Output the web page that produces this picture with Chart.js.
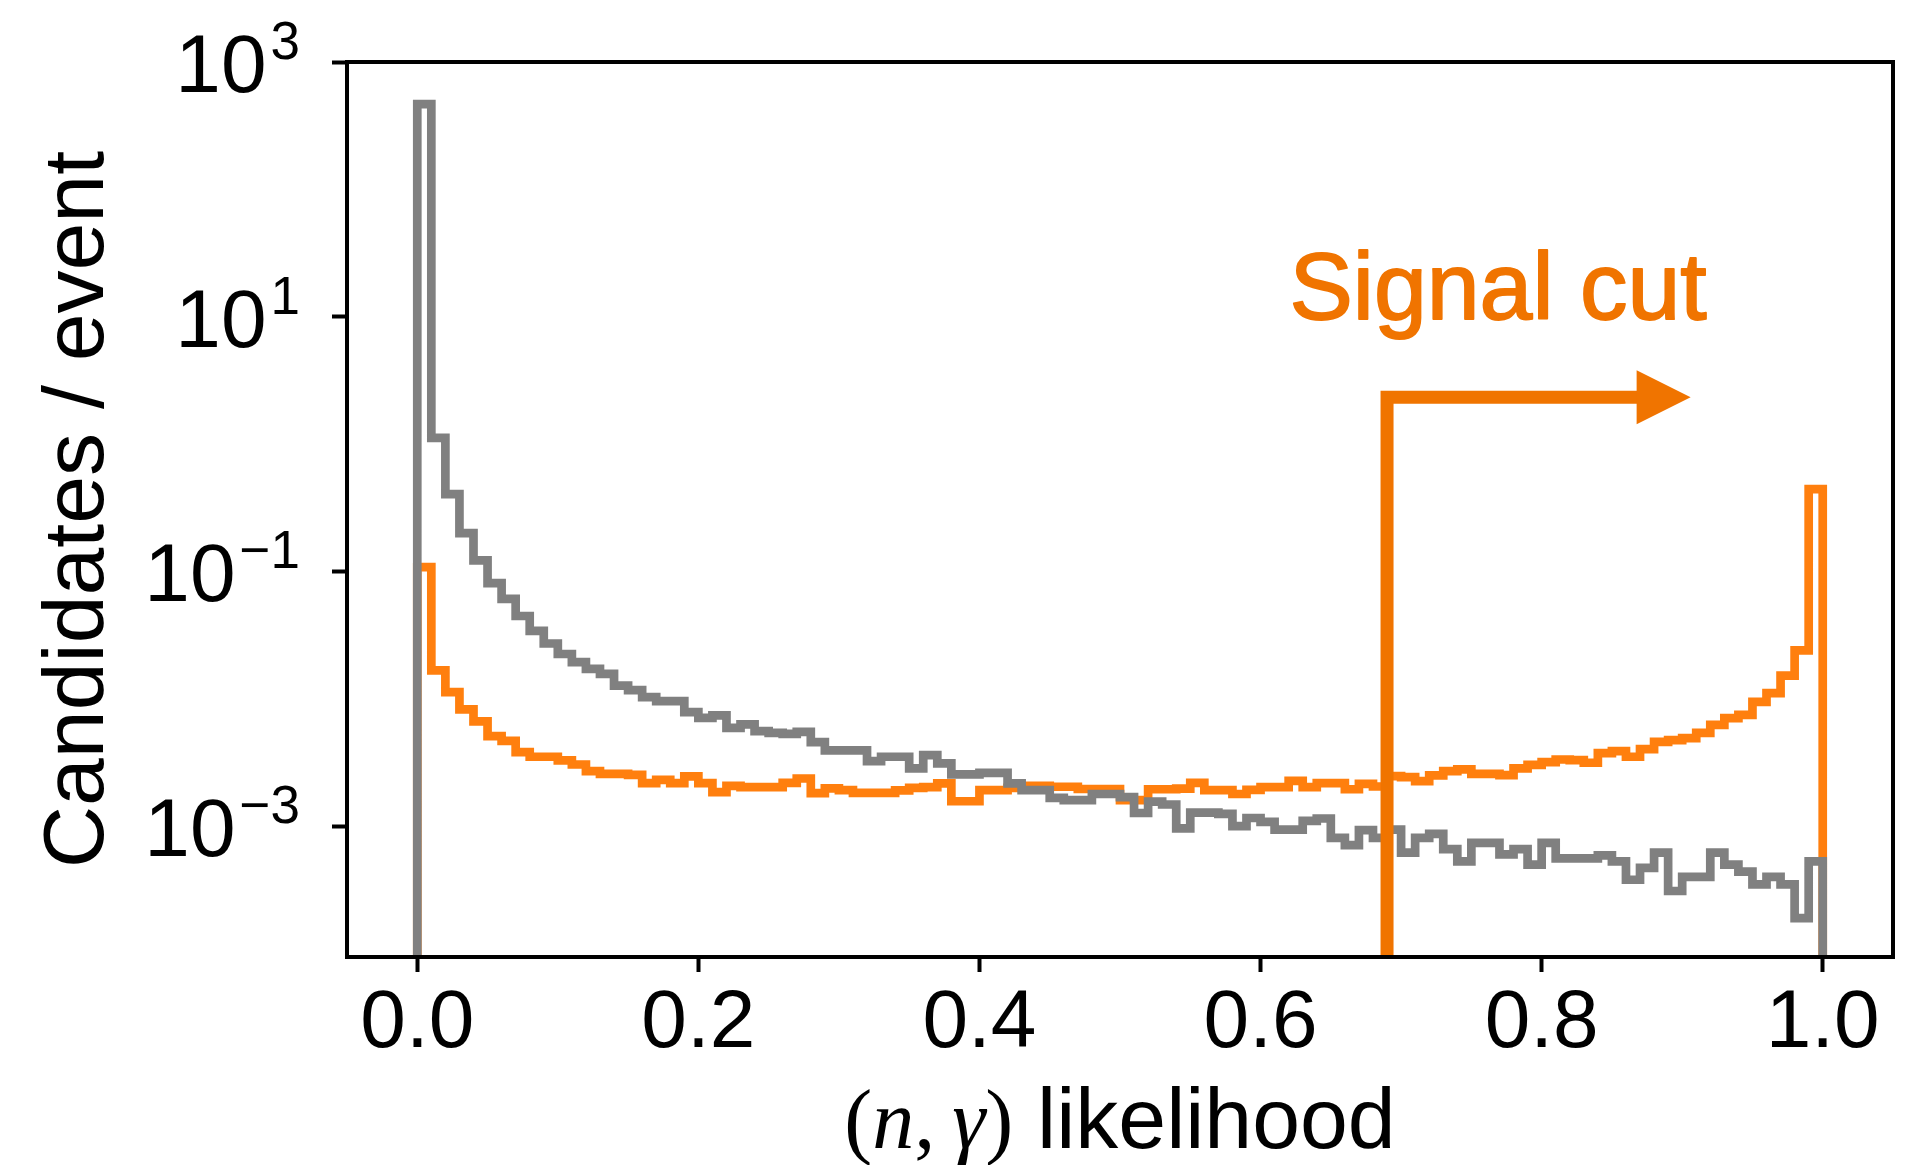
<!DOCTYPE html>
<html>
<head>
<meta charset="utf-8">
<title>(n, γ) likelihood</title>
<script src="https://cdn.jsdelivr.net/npm/chart.js@4.4.1/dist/chart.umd.min.js"></script>
<style>
  html, body { margin: 0; padding: 0; background: #fff; }
  canvas { display: block; }
</style>
</head>
<body>
<canvas id="likelihoodChart" width="1911" height="1165"></canvas>
<script>
// (n, gamma) likelihood histograms, 100 bins of width 0.01 on [0, 1]
const BIN_WIDTH = 0.01;

// background candidates (grey)
const grayCounts = [
  467, 1.12, 0.405, 0.200, 0.122, 0.081, 0.061, 0.0447, 0.0342, 0.0272,
  0.0225, 0.0194, 0.0172, 0.0157, 0.0127, 0.0117, 0.0103, 0.0096, 0.0096, 0.00787,
  0.0071, 0.00741, 0.00592, 0.0063, 0.00557, 0.00541, 0.00531, 0.00551, 0.00457, 0.00394,
  0.00394, 0.00394, 0.00324, 0.00351, 0.00351, 0.00284, 0.00361, 0.00311, 0.00255, 0.00255,
  0.00262, 0.00262, 0.00217, 0.00192, 0.00192, 0.00167, 0.0016, 0.0016, 0.00179, 0.00179,
  0.00169, 0.00127, 0.00156, 0.00148, 0.00096, 0.00128, 0.00128, 0.00125, 0.0010, 0.00116,
  0.00108, 0.00094, 0.00094, 0.0011, 0.00115, 0.00081, 0.00071, 0.00093, 0.00081, 0.00094,
  0.00062, 0.00081, 0.00087, 0.00066, 0.00053, 0.00074, 0.00074, 0.0006, 0.00066, 0.0005,
  0.00074, 0.00056, 0.00056, 0.00056, 0.00059, 0.00053, 0.00038, 0.00047, 0.00062, 0.00031,
  0.0004, 0.0004, 0.00062, 0.0005, 0.00044, 0.00035, 0.0004, 0.00035, 0.00019, 0.00053
];

// signal candidates (orange)
const orangeCounts = [
  0.108, 0.0167, 0.0113, 0.00826, 0.00665, 0.00509, 0.00468, 0.00382, 0.00351, 0.00351,
  0.00329, 0.00305, 0.00271, 0.00258, 0.00258, 0.00253, 0.00218, 0.00231, 0.00218, 0.00246,
  0.00218, 0.00185, 0.00207, 0.00203, 0.00203, 0.00203, 0.00219, 0.00237, 0.00182, 0.00198,
  0.00192, 0.00183, 0.00183, 0.00183, 0.00191, 0.0020, 0.00203, 0.00217, 0.00157, 0.00157,
  0.00192, 0.00192, 0.0020, 0.00207, 0.00207, 0.00204, 0.00204, 0.00196, 0.00196, 0.00196,
  0.0016, 0.0016, 0.00195, 0.00195, 0.00197, 0.00219, 0.00192, 0.00192, 0.00179, 0.00193,
  0.00203, 0.00203, 0.00227, 0.00203, 0.00218, 0.00218, 0.00195, 0.00215, 0.00205, 0.00247,
  0.00243, 0.00226, 0.00251, 0.00271, 0.00279, 0.00258, 0.00258, 0.00252, 0.00284, 0.00303,
  0.00318, 0.00334, 0.0033, 0.00315, 0.00375, 0.00388, 0.00351, 0.00403, 0.00459, 0.00474,
  0.00491, 0.00541, 0.00625, 0.00705, 0.00748, 0.00946, 0.0111, 0.0152, 0.024, 0.443
];

const xTickValues = [0, 0.2, 0.4, 0.6, 0.8, 1.0];
const xTickLabels = ['0.0', '0.2', '0.4', '0.6', '0.8', '1.0'];
const yTickValues = [1e-3, 1e-1, 1e1, 1e3];
const yTickExponents = ['−3', '−1', '1', '3'];   // labels read 10^exponent

const X_MIN = -0.05, X_MAX = 1.05;
const Y_MIN = 9.4e-5, Y_MAX = 1e3;

// signal cut marker
const cutValue = 0.69;
const cutArrowEnd = 0.906;
const cutArrowLevel = 2.33;
const cutLabel = 'Signal cut';
const cutLabelX = 0.769, cutLabelY = 9.55;

const yAxisTitle = 'Candidates / event';
// x title: (n, γ) in math italic, then plain text
const xTitleParts = [
  ['(', 'math'], ['n', 'mathit'], [',\u2009', 'math'], ['γ', 'mathit'], [')', 'math'], [' likelihood', 'text']
];

const GRAY = '#808080';
const ORANGE = '#ff7f0e';
const CUT_ORANGE = '#f07400';
const SANS = '"Liberation Sans", Arial, Helvetica, sans-serif';
const SERIF = '"Liberation Serif", "Times New Roman", serif';

Chart.defaults.font.family = SANS;
Chart.defaults.color = '#000';

// histogram outline: rise from the axis floor, step across each bin, drop at the end
function stepPoints(counts) {
  const pts = [{ x: 0, y: Y_MIN }];
  counts.forEach((c, i) => pts.push({ x: i * BIN_WIDTH, y: c }));
  pts.push({ x: counts.length * BIN_WIDTH, y: Y_MIN });
  return pts;
}

const cutMarker = {
  id: 'cutMarker',
  afterDatasetsDraw(chart) {
    const { ctx, chartArea, scales: { x, y } } = chart;
    const px = x.getPixelForValue(cutValue);
    const py = y.getPixelForValue(cutArrowLevel);
    const tip = x.getPixelForValue(cutArrowEnd);
    const headLen = 54, headHalf = 27;

    ctx.save();
    ctx.beginPath();
    ctx.rect(chartArea.left, chartArea.top, chartArea.right - chartArea.left, chartArea.bottom - chartArea.top);
    ctx.clip();

    ctx.strokeStyle = CUT_ORANGE;
    ctx.lineWidth = 13;
    ctx.lineJoin = 'miter';
    ctx.lineCap = 'butt';
    ctx.beginPath();
    ctx.moveTo(px, chartArea.bottom + 10);
    ctx.lineTo(px, py);
    ctx.lineTo(tip - headLen + 2, py);
    ctx.stroke();

    ctx.fillStyle = CUT_ORANGE;
    ctx.beginPath();
    ctx.moveTo(tip - headLen, py - headHalf);
    ctx.lineTo(tip, py);
    ctx.lineTo(tip - headLen, py + headHalf);
    ctx.closePath();
    ctx.fill();

    // label, slightly heavier than regular weight
    ctx.font = '95px ' + SANS;
    ctx.textAlign = 'center';
    ctx.textBaseline = 'alphabetic';
    ctx.lineWidth = 1.8;
    ctx.lineJoin = 'round';
    const lx = x.getPixelForValue(cutLabelX), ly = y.getPixelForValue(cutLabelY);
    ctx.fillText(cutLabel, lx, ly);
    ctx.strokeText(cutLabel, lx, ly);
    ctx.restore();
  }
};

const frame = {
  id: 'frame',
  afterDatasetsDraw(chart) {
    const { ctx, chartArea: a } = chart;
    ctx.save();
    ctx.strokeStyle = '#000';
    ctx.lineWidth = 4;
    ctx.strokeRect(a.left, a.top, a.right - a.left, a.bottom - a.top);
    ctx.restore();
  }
};

// y tick labels as 10 with a raised exponent, placed at the log axis ticks
const yPowerLabels = {
  id: 'yPowerLabels',
  afterDraw(chart) {
    const { ctx, scales: { y } } = chart;
    const right = y.right - 15 - 32;
    ctx.save();
    ctx.fillStyle = '#000';
    ctx.textBaseline = 'alphabetic';
    ctx.textAlign = 'left';
    y.ticks.forEach((t, i) => {
      const py = y.getPixelForValue(t.value);
      const exp = yTickExponents[i];
      ctx.font = '82px ' + SANS;
      const wBase = ctx.measureText('10').width;
      ctx.font = '53px ' + SANS;
      const wExp = ctx.measureText(exp).width;
      const x0 = right - wBase - 4 - wExp;
      const baseline = py + 30;
      ctx.font = '82px ' + SANS;
      ctx.fillText('10', x0, baseline);
      ctx.font = '53px ' + SANS;
      ctx.fillText(exp, x0 + wBase + 4, baseline - 33);
    });
    ctx.restore();
  }
};

const xTitle = {
  id: 'xTitle',
  afterDraw(chart) {
    const { ctx, chartArea: a } = chart;
    const fonts = {
      math: '84px ' + SERIF,
      mathit: 'italic 84px ' + SERIF,
      text: '86px ' + SANS
    };
    ctx.save();
    ctx.fillStyle = '#000';
    ctx.textBaseline = 'alphabetic';
    ctx.textAlign = 'left';
    let total = 0;
    xTitleParts.forEach(([t, f]) => { ctx.font = fonts[f]; total += ctx.measureText(t).width; });
    let cx = (a.left + a.right) / 2 - total / 2;
    xTitleParts.forEach(([t, f]) => {
      ctx.font = fonts[f];
      ctx.fillText(t, cx, 1148);
      cx += ctx.measureText(t).width;
    });
    ctx.restore();
  }
};

const ctx = document.getElementById('likelihoodChart').getContext('2d');
new Chart(ctx, {
  type: 'line',
  data: {
    datasets: [
      {
        label: 'Background',
        data: stepPoints(grayCounts),
        borderColor: GRAY,
        borderWidth: 8.7,
        stepped: true,
        pointRadius: 0,
        fill: false,
        borderJoinStyle: 'miter',
        clip: 0
      },
      {
        label: 'Signal',
        data: stepPoints(orangeCounts),
        borderColor: ORANGE,
        borderWidth: 8.7,
        stepped: true,
        pointRadius: 0,
        fill: false,
        borderJoinStyle: 'miter',
        clip: 0
      }
    ]
  },
  options: {
    responsive: false,
    animation: false,
    devicePixelRatio: 1,
    layout: { padding: { top: 62, right: 18, left: 0, bottom: 0 } },
    plugins: {
      legend: { display: false },
      tooltip: { enabled: false }
    },
    scales: {
      x: {
        type: 'linear',
        min: X_MIN,
        max: X_MAX,
        afterBuildTicks: s => { s.ticks = xTickValues.map(v => ({ value: v })); },
        afterFit: s => { s.height = 208; s.paddingLeft = 0; s.paddingRight = 0; },
        ticks: {
          callback: (v, i) => xTickLabels[i],
          font: { size: 82 },
          color: '#000',
          padding: 3,
          maxRotation: 0,
          autoSkip: false
        },
        grid: { drawOnChartArea: false, tickLength: 15, tickWidth: 4, tickColor: '#000' },
        border: { display: true, color: '#000', width: 4 }
      },
      y: {
        type: 'logarithmic',
        min: Y_MIN,
        max: Y_MAX,
        afterBuildTicks: s => { s.ticks = yTickValues.map(v => ({ value: v })); },
        afterFit: s => { s.width = 347; s.paddingTop = 0; s.paddingBottom = 0; },
        ticks: { display: false, autoSkip: false },
        grid: { drawOnChartArea: false, tickLength: 15, tickWidth: 4, tickColor: '#000' },
        border: { display: true, color: '#000', width: 4 },
        title: {
          display: true,
          text: yAxisTitle,
          font: { size: 86 },
          color: '#000',
          padding: { top: 28, bottom: 0 }
        }
      }
    }
  },
  plugins: [cutMarker, frame, yPowerLabels, xTitle]
});
</script>
</body>
</html>
